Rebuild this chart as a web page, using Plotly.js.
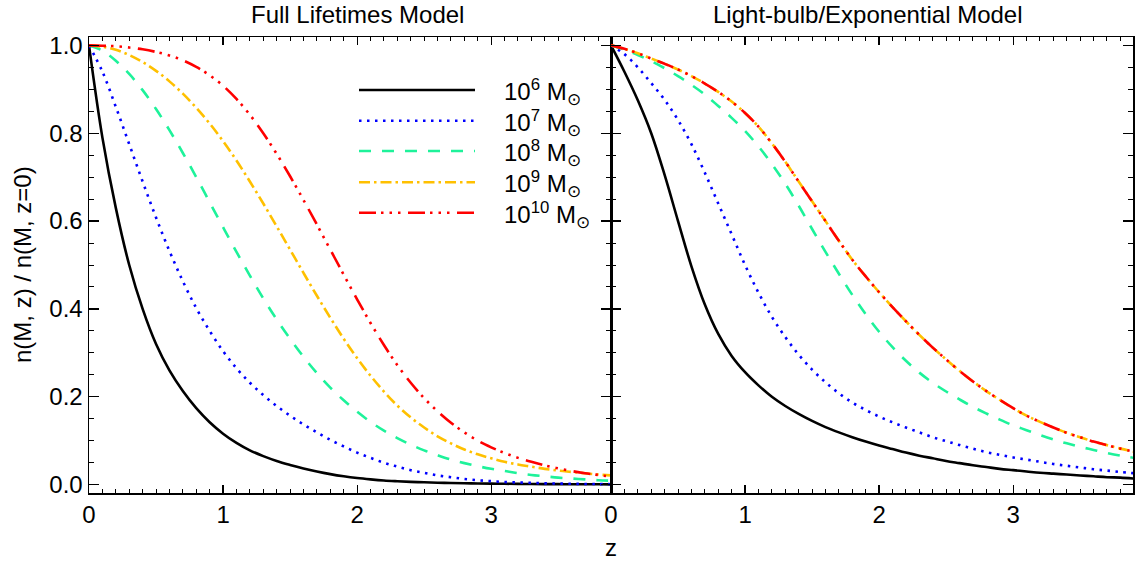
<!DOCTYPE html>
<html>
<head>
<meta charset="utf-8">
<script src="https://cdn.plot.ly/plotly-3.0.1.min.js"></script>
<style>html,body{margin:0;padding:0;background:#fff;}#chart{width:1135px;height:561px;}</style>
</head>
<body>
<div id="chart"></div>
<script>
// ---------------- data ----------------
const z = [0.0,0.1,0.2,0.3,0.4,0.5,0.6,0.7,0.8,0.9,1.0,1.1,1.2,1.3,1.4,1.5,1.6,1.7,1.8,1.9,
           2.0,2.1,2.2,2.3,2.4,2.5,2.6,2.7,2.8,2.9,3.0,3.1,3.2,3.3,3.4,3.5,3.6,3.7,3.8,3.9];

const massLabels = ["10<sup>6</sup> M<sub>⊙</sub>","10<sup>7</sup> M<sub>⊙</sub>","10<sup>8</sup> M<sub>⊙</sub>",
                    "10<sup>9</sup> M<sub>⊙</sub>","10<sup>10</sup> M<sub>⊙</sub>"];
const panelTitles = ["Full Lifetimes Model","Light-bulb/Exponential Model"];
const xTickVals = [0,1,2,3];
const yTickVals = [0.0,0.2,0.4,0.6,0.8,1.0];

// Full lifetimes model
const full_m6  = [1.0,0.79,0.63,0.50,0.40,0.32,0.26,0.213,0.174,0.142,0.116,0.095,0.078,0.065,0.054,0.045,0.037,0.030,0.024,0.019,
                  0.015,0.012,0.0095,0.0078,0.0064,0.0053,0.0045,0.0038,0.0032,0.0027,0.0023,0.002,0.0017,0.0015,0.0013,0.0011,0.001,0.0009,0.0008,0.0007];
const full_m7  = [1.0,0.94,0.86,0.775,0.69,0.608,0.532,0.463,0.402,0.35,0.304,0.265,0.232,0.204,0.179,0.157,0.137,0.119,0.102,0.087,
                  0.073,0.061,0.05,0.041,0.033,0.027,0.021,0.017,0.013,0.01,0.008,0.006,0.005,0.004,0.003,0.0025,0.002,0.0016,0.0013,0.001];
const full_m8  = [1.0,0.988,0.965,0.935,0.898,0.855,0.807,0.755,0.70,0.643,0.586,0.53,0.476,0.424,0.376,0.332,0.291,0.254,0.221,0.192,
                  0.166,0.143,0.123,0.106,0.091,0.078,0.067,0.057,0.049,0.042,0.036,0.031,0.026,0.022,0.019,0.016,0.014,0.012,0.01,0.009];
const full_m9  = [1.0,0.997,0.99,0.978,0.962,0.942,0.918,0.89,0.858,0.822,0.782,0.738,0.69,0.64,0.588,0.535,0.482,0.43,0.38,0.332,
                  0.288,0.248,0.212,0.18,0.153,0.13,0.11,0.094,0.08,0.069,0.06,0.052,0.046,0.041,0.036,0.032,0.029,0.026,0.023,0.021];
const full_m10 = [1.0,0.999,0.998,0.995,0.991,0.985,0.977,0.966,0.951,0.932,0.908,0.878,0.842,0.80,0.753,0.702,0.648,0.592,0.535,0.478,
                  0.422,0.368,0.318,0.272,0.232,0.197,0.167,0.141,0.119,0.10,0.085,0.072,0.061,0.052,0.044,0.037,0.031,0.026,0.022,0.018];

// Light-bulb / exponential model
const lb_m6  = [1.0,0.94,0.875,0.80,0.705,0.60,0.497,0.41,0.343,0.293,0.256,0.226,0.20,0.179,0.161,0.145,0.131,0.119,0.108,0.098,
                0.089,0.081,0.073,0.066,0.06,0.054,0.049,0.044,0.04,0.036,0.033,0.03,0.027,0.025,0.023,0.021,0.019,0.017,0.016,0.014];
const lb_m7  = [1.0,0.98,0.95,0.914,0.876,0.83,0.775,0.71,0.64,0.57,0.50,0.437,0.382,0.336,0.296,0.262,0.233,0.208,0.187,0.17,
                0.155,0.142,0.13,0.119,0.108,0.099,0.09,0.082,0.074,0.068,0.062,0.057,0.052,0.047,0.043,0.039,0.035,0.032,0.029,0.026];
const lb_m8  = [1.0,0.99,0.978,0.964,0.948,0.93,0.91,0.888,0.862,0.835,0.805,0.77,0.73,0.685,0.635,0.582,0.53,0.48,0.432,0.388,
                0.348,0.313,0.282,0.255,0.232,0.212,0.194,0.177,0.162,0.148,0.135,0.124,0.113,0.103,0.094,0.086,0.079,0.072,0.066,0.061];
const lb_m9  = [1.0,0.992,0.982,0.97,0.958,0.945,0.93,0.913,0.894,0.872,0.846,0.815,0.777,0.735,0.69,0.645,0.60,0.555,0.512,0.474,
                0.438,0.404,0.372,0.341,0.312,0.285,0.259,0.235,0.213,0.193,0.174,0.157,0.143,0.13,0.118,0.108,0.098,0.09,0.082,0.075];
const lb_m10 = [1.0,0.992,0.982,0.97,0.958,0.945,0.93,0.913,0.894,0.872,0.846,0.815,0.777,0.735,0.69,0.645,0.60,0.555,0.512,0.474,
                0.438,0.404,0.372,0.341,0.312,0.285,0.259,0.235,0.213,0.193,0.174,0.157,0.143,0.13,0.118,0.108,0.098,0.09,0.082,0.075];

// ---------------- styles ----------------
const colors = ["#000000","#0000ff","#1ef29a","#ffc000","#ff0000"];
const dashes = ["solid","2.5px,5.5px","12px,11px","11px,4px,2.5px,4px","17px,5px,2.5px,6px,2.5px,6px,2.5px,7.5px"];
const LW = 2.6;
const FONT = "Liberation Sans, Arial, Helvetica, sans-serif";
const FS = 24;

const fullSeries = [full_m6, full_m7, full_m8, full_m9, full_m10];
const lbSeries   = [lb_m6, lb_m7, lb_m8, lb_m9, lb_m10];

const traces = [];
fullSeries.forEach((ys, i) => traces.push({
  x: z, y: ys, xaxis: "x", yaxis: "y", type: "scatter", mode: "lines",
  line: {color: colors[i], width: LW, dash: dashes[i], shape: "spline", smoothing: 1},
  name: massLabels[i], showlegend: false, hoverinfo: "skip"
}));
lbSeries.forEach((ys, i) => traces.push({
  x: z, y: ys, xaxis: "x2", yaxis: "y2", type: "scatter", mode: "lines",
  line: {color: colors[i], width: LW, dash: dashes[i], shape: "spline", smoothing: 1},
  name: massLabels[i], showlegend: false, hoverinfo: "skip"
}));

// ---------------- layout ----------------
const W = 1135, H = 561;
const M = {l: 89, r: 2, t: 37, b: 68};
const pw = W - M.l - M.r, ph = H - M.t - M.b;
const px2x = p => (p - M.l) / pw;      // pixel -> paper x
const py2y = p => (H - M.b - p) / ph;  // pixel -> paper y

const xCommon = {
  range: [0, 3.894], tickmode: "array", tickvals: xTickVals, ticktext: xTickVals.map(String),
  ticks: "inside", ticklen: 8, tickwidth: 1.2, tickcolor: "#000",
  minor: {dtick: 0.1, tick0: 0, ticks: "inside", ticklen: 4, tickwidth: 1, tickcolor: "#000"},
  showline: true, linecolor: "#000", linewidth: 1.5, mirror: "ticks",
  showgrid: false, zeroline: false,
  tickfont: {family: FONT, size: FS, color: "#000"}
};
const yCommon = {
  range: [-0.019, 1.019], tickmode: "array", tickvals: yTickVals,
  ticktext: yTickVals.map(v => v.toFixed(1)),
  ticks: "inside", ticklen: 10, tickwidth: 1.2, tickcolor: "#000",
  minor: {dtick: 0.05, tick0: 0, ticks: "inside", ticklen: 5, tickwidth: 1, tickcolor: "#000"},
  showline: true, linecolor: "#000", linewidth: 1.5, mirror: "ticks",
  showgrid: false, zeroline: false,
  tickfont: {family: FONT, size: FS, color: "#000"}
};

const shapes = [];
const annotations = [];
const legX0 = px2x(359), legX1 = px2x(475), legTx = px2x(502);
const legRows = [90, 120.7, 151, 182.3, 212.7];
massLabels.forEach((lab, i) => {
  const yy = py2y(legRows[i]);
  shapes.push({type: "line", xref: "paper", yref: "paper", x0: legX0, x1: legX1, y0: yy, y1: yy,
               line: {color: colors[i], width: LW, dash: dashes[i]}});
  annotations.push({xref: "paper", yref: "paper", x: legTx, y: py2y(legRows[i] + 2), xanchor: "left", yanchor: "middle",
                    text: lab, showarrow: false, font: {family: FONT, size: FS, color: "#000"}});
});
annotations.push({xref: "paper", yref: "paper", x: px2x(357), y: py2y(14.5), xanchor: "center", yanchor: "middle",
                  text: panelTitles[0], showarrow: false, font: {family: FONT, size: FS, color: "#000"}});
annotations.push({xref: "paper", yref: "paper", x: px2x(868), y: py2y(14.5), xanchor: "center", yanchor: "middle",
                  text: panelTitles[1], showarrow: false, font: {family: FONT, size: FS, color: "#000"}});
annotations.push({xref: "paper", yref: "paper", x: px2x(611), y: py2y(547), xanchor: "center", yanchor: "middle",
                  text: "z", showarrow: false, borderpad: 0, font: {family: FONT, size: FS, color: "#000"}});
annotations.push({xref: "paper", yref: "paper", x: px2x(22), y: py2y(265), xanchor: "center", yanchor: "middle",
                  text: "n(M, z) / n(M, z=0)", textangle: -90, showarrow: false, font: {family: FONT, size: FS, color: "#000"}});

const layout = {
  width: W, height: H, margin: M,
  paper_bgcolor: "#fff", plot_bgcolor: "#fff",
  showlegend: false,
  xaxis: Object.assign({}, xCommon, {domain: [0, 0.5], anchor: "y"}),
  xaxis2: Object.assign({}, xCommon, {domain: [0.5, 1], anchor: "y2"}),
  yaxis: Object.assign({}, yCommon, {domain: [0, 1], anchor: "x"}),
  yaxis2: Object.assign({}, yCommon, {domain: [0, 1], anchor: "x2", showticklabels: false}),
  shapes: shapes, annotations: annotations,
  font: {family: FONT, size: FS, color: "#000"}
};

Plotly.newPlot("chart", traces, layout, {displayModeBar: false, staticPlot: true});
</script>
</body>
</html>
